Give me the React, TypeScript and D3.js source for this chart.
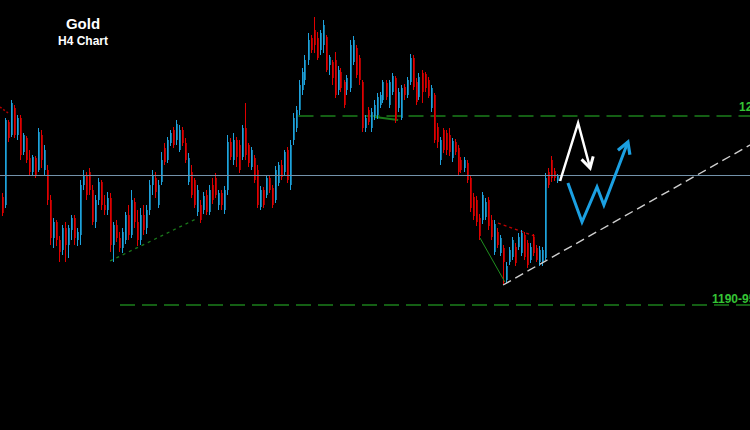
import React from "react";
import * as d3 from "d3";

const W = 750;
const H = 430;

const titleMain = "Gold";
const titleSub = "H4 Chart";
const upperLevelLabel = "1228-30";
const lowerLevelLabel = "1190-95";

const opens = [
  1211.6, 1210.0, 1226.6, 1224.0, 1229.4, 1224.0, 1227.4, 1220.6, 1223.4, 1219.4,
  1216.6, 1219.4, 1217.0, 1224.0, 1217.0, 1217.0, 1211.0, 1203.4, 1206.6, 1203.0,
  1201.0, 1205.4, 1202.0, 1205.0, 1207.4, 1203.0, 1204.0, 1214.0, 1216.0, 1216.6,
  1213.0, 1206.6, 1211.0, 1214.6, 1210.0, 1209.0, 1211.4, 1202.0, 1206.0, 1203.4,
  1201.4, 1203.0, 1208.0, 1204.0, 1210.6, 1206.6, 1203.0, 1208.0, 1205.4, 1209.0,
  1214.0, 1215.4, 1210.0, 1214.6, 1221.4, 1219.0, 1222.4, 1225.0, 1223.0, 1221.0,
  1225.0, 1222.4, 1214.6, 1216.6, 1215.0, 1208.6, 1210.0, 1209.0, 1212.0, 1208.6,
  1214.0, 1215.4, 1210.0, 1212.4, 1209.0, 1213.0, 1222.6, 1219.0, 1223.0, 1222.0,
  1219.6, 1225.4, 1222.0, 1217.6, 1219.4, 1217.0, 1209.6, 1213.0, 1212.0, 1215.4,
  1213.4, 1211.0, 1214.4, 1218.0, 1216.6, 1221.0, 1214.0, 1223.0, 1225.4, 1229.0,
  1233.0, 1235.0, 1239.0, 1243.4, 1245.0, 1243.4, 1241.0, 1242.0, 1243.6, 1238.0,
  1238.6, 1239.0, 1233.0, 1236.6, 1234.6, 1233.0, 1233.4, 1238.6, 1241.4, 1239.4,
  1234.6, 1225.4, 1229.0, 1225.4, 1227.8, 1228.0, 1230.0, 1231.0, 1234.4, 1230.0,
  1232.6, 1235.4, 1229.4, 1227.4, 1233.6, 1232.0, 1234.6, 1239.4, 1234.6, 1231.6,
  1236.4, 1236.2, 1235.0, 1229.4, 1232.0, 1225.6, 1219.0, 1225.0, 1224.4, 1224.0,
  1219.4, 1222.6, 1221.4, 1219.0, 1217.4, 1218.4, 1215.4, 1211.6, 1211.0, 1207.4,
  1207.0, 1207.6, 1211.0, 1207.0, 1200.6, 1204.6, 1200.4, 1201.4, 1195.0, 1198.6,
  1199.6, 1201.6, 1201.6, 1200.4, 1204.0, 1202.4, 1199.0, 1203.6, 1201.4, 1198.6,
  1198.6, 1199.4, 1216.6, 1219.0, 1216.8, 1214.8,
];

const closes = [
  1208.4, 1227.0, 1223.4, 1230.4, 1224.0, 1227.4, 1220.0, 1224.0, 1219.0, 1216.6,
  1219.6, 1216.0, 1224.6, 1219.0, 1221.0, 1211.0, 1203.4, 1206.6, 1203.0, 1200.6,
  1205.4, 1202.0, 1205.4, 1207.4, 1203.4, 1204.6, 1214.0, 1216.0, 1212.0, 1213.0,
  1206.6, 1211.0, 1214.6, 1210.0, 1209.0, 1211.4, 1202.0, 1206.0, 1203.4, 1201.4,
  1204.6, 1208.0, 1204.0, 1211.0, 1206.6, 1203.0, 1208.0, 1205.0, 1209.0, 1214.0,
  1216.0, 1212.6, 1214.0, 1219.0, 1218.6, 1223.0, 1224.4, 1222.0, 1226.2, 1225.0,
  1222.4, 1219.0, 1219.4, 1212.0, 1210.0, 1213.0, 1207.0, 1211.8, 1208.6, 1213.0,
  1211.0, 1212.0, 1212.4, 1210.0, 1213.0, 1222.6, 1219.6, 1223.0, 1219.6, 1217.0,
  1225.4, 1220.0, 1218.4, 1221.0, 1215.0, 1210.0, 1213.0, 1210.0, 1215.4, 1213.0,
  1210.0, 1217.0, 1218.0, 1215.6, 1220.6, 1215.0, 1222.0, 1227.4, 1229.0, 1234.0,
  1236.6, 1239.0, 1243.0, 1241.0, 1242.0, 1239.4, 1244.4, 1246.0, 1237.0, 1239.6,
  1235.4, 1232.0, 1237.0, 1233.4, 1230.0, 1235.4, 1242.0, 1243.0, 1236.0, 1235.0,
  1225.4, 1227.4, 1226.6, 1228.6, 1230.0, 1231.6, 1232.0, 1234.6, 1231.6, 1234.6,
  1235.8, 1227.0, 1232.6, 1233.4, 1232.0, 1235.0, 1239.4, 1233.6, 1230.6, 1235.6,
  1232.6, 1233.4, 1231.8, 1233.4, 1223.0, 1222.6, 1223.0, 1221.0, 1221.0, 1220.6,
  1222.8, 1220.6, 1216.6, 1217.0, 1219.0, 1215.0, 1209.4, 1207.8, 1206.6, 1203.8,
  1212.0, 1210.6, 1205.8, 1203.6, 1206.2, 1202.0, 1203.4, 1198.6, 1197.8, 1201.0,
  1203.0, 1198.4, 1203.6, 1204.4, 1199.6, 1198.0, 1201.6, 1200.4, 1199.0, 1201.0,
  1201.0, 1215.4, 1214.0, 1215.4, 1215.4, 1215.8,
];

const highs = [
  1212.4, 1227.4, 1227.0, 1231.0, 1230.0, 1228.0, 1228.0, 1224.4, 1223.8, 1221.0,
  1220.0, 1219.8, 1225.4, 1225.0, 1222.0, 1218.0, 1212.0, 1207.4, 1207.0, 1203.8,
  1206.0, 1206.6, 1206.0, 1208.0, 1208.0, 1205.4, 1215.0, 1217.0, 1216.6, 1217.4,
  1214.0, 1212.0, 1215.4, 1215.0, 1212.0, 1212.6, 1212.4, 1206.6, 1207.0, 1204.6,
  1205.4, 1208.6, 1210.0, 1213.0, 1211.4, 1209.0, 1209.4, 1210.0, 1210.0, 1215.0,
  1217.0, 1216.6, 1215.0, 1220.6, 1222.4, 1223.6, 1225.0, 1225.6, 1227.0, 1226.0,
  1225.6, 1223.4, 1220.4, 1218.0, 1215.4, 1214.0, 1211.0, 1212.6, 1213.0, 1214.0,
  1215.4, 1216.4, 1213.0, 1213.0, 1213.8, 1224.0, 1223.4, 1224.4, 1223.6, 1223.0,
  1226.0, 1230.4, 1222.4, 1221.6, 1220.0, 1218.0, 1213.8, 1213.6, 1216.0, 1216.0,
  1214.0, 1217.8, 1218.6, 1219.0, 1221.0, 1221.6, 1223.0, 1228.4, 1229.8, 1235.0,
  1237.4, 1240.0, 1244.4, 1244.0, 1247.6, 1244.6, 1245.0, 1247.0, 1244.0, 1240.0,
  1239.0, 1240.6, 1237.8, 1237.4, 1235.0, 1236.0, 1243.0, 1243.8, 1242.0, 1240.0,
  1235.0, 1228.0, 1229.6, 1229.4, 1231.0, 1232.4, 1232.6, 1235.0, 1235.0, 1235.0,
  1236.4, 1235.8, 1233.4, 1234.0, 1234.2, 1235.6, 1240.2, 1240.0, 1235.4, 1236.4,
  1237.0, 1236.6, 1235.6, 1234.0, 1232.4, 1226.4, 1223.6, 1225.4, 1225.0, 1225.4,
  1223.4, 1223.2, 1222.0, 1219.6, 1219.6, 1219.0, 1216.0, 1212.4, 1211.8, 1208.2,
  1212.6, 1211.4, 1211.6, 1208.0, 1207.0, 1205.4, 1204.0, 1202.0, 1198.6, 1201.6,
  1203.6, 1202.4, 1204.4, 1205.0, 1204.6, 1203.0, 1202.4, 1204.2, 1202.0, 1201.8,
  1201.6, 1216.4, 1217.4, 1219.8, 1217.4, 1216.2,
];

const lows = [
  1207.8, 1209.4, 1222.6, 1223.6, 1223.4, 1223.0, 1219.0, 1220.0, 1218.4, 1216.0,
  1216.0, 1215.4, 1216.6, 1217.4, 1216.0, 1210.0, 1202.0, 1201.4, 1201.8, 1198.6,
  1200.0, 1198.6, 1199.4, 1203.0, 1202.0, 1201.8, 1202.0, 1213.0, 1211.0, 1212.0,
  1206.0, 1205.4, 1210.0, 1209.0, 1208.0, 1208.0, 1200.6, 1198.6, 1202.6, 1200.6,
  1200.4, 1202.2, 1203.0, 1203.4, 1205.4, 1201.8, 1202.0, 1204.0, 1204.2, 1208.0,
  1212.0, 1211.4, 1209.4, 1214.0, 1218.0, 1218.4, 1221.8, 1221.4, 1222.0, 1220.6,
  1221.8, 1218.4, 1214.0, 1211.4, 1209.4, 1207.8, 1206.4, 1208.2, 1208.0, 1208.0,
  1210.2, 1211.4, 1209.0, 1209.0, 1208.2, 1212.0, 1219.0, 1218.0, 1217.6, 1216.4,
  1219.0, 1219.0, 1217.6, 1217.0, 1214.4, 1209.4, 1209.0, 1209.4, 1211.4, 1212.4,
  1209.4, 1210.4, 1213.8, 1215.0, 1216.0, 1214.4, 1213.0, 1222.0, 1224.6, 1228.0,
  1232.0, 1234.0, 1238.0, 1240.4, 1240.4, 1239.0, 1240.0, 1240.4, 1236.6, 1236.0,
  1234.0, 1231.4, 1232.0, 1232.6, 1229.4, 1232.0, 1232.6, 1238.0, 1235.4, 1234.0,
  1224.6, 1224.6, 1226.0, 1224.6, 1227.0, 1227.2, 1229.4, 1230.4, 1231.0, 1229.4,
  1232.0, 1226.4, 1228.6, 1227.0, 1231.0, 1231.4, 1234.0, 1233.0, 1230.0, 1231.0,
  1230.4, 1232.6, 1231.4, 1228.6, 1222.4, 1221.4, 1218.0, 1220.4, 1220.0, 1219.8,
  1218.6, 1220.0, 1216.0, 1216.4, 1216.6, 1214.4, 1208.6, 1207.0, 1205.8, 1203.0,
  1206.2, 1207.0, 1205.0, 1203.0, 1200.0, 1201.4, 1199.8, 1194.2, 1194.4, 1198.0,
  1199.0, 1197.8, 1201.0, 1199.8, 1199.0, 1197.4, 1198.4, 1199.8, 1198.6, 1197.8,
  1197.8, 1199.0, 1213.4, 1214.6, 1214.8, 1214.4,
];

// levels (price)
const currentPrice = 1216.0;
const upperLevel = 1227.8;
const upperLevelStart = 99;
const lowerLevel = 1190.0;
const lowerLevelStart = 39.5;

// annotations as [bar index, price]
const greenSupport: [number, number][] = [[36.2, 1198.8], [65.5, 1207.4]];
const greenSmall: [number, number][] = [[124.5, 1227.6], [132.2, 1227.0]];
const redTopLeft: [number, number][] = [[-0.5, 1229.6], [2.2, 1228.4]];
const redFlag: [number, number][] = [[165.5, 1206.4], [178.5, 1203.6]];
const greenDrop: [number, number][] = [[159.5, 1203.4], [167.8, 1194.6]];
const whiteTrend: [number, number][] = [[167.2, 1194.0], [249.5, 1222.0]];
const whiteArrow: [number, number][] = [[186.2, 1214.8], [192.2, 1226.4], [196.2, 1217.4]];
const blueArrow: [number, number][] = [
  [188.8, 1214.4], [193.5, 1206.6], [198.5, 1213.6], [200.8, 1210.0], [208.8, 1222.6],
];

const UP_BRIGHT = "#1fa2dd";
const UP_DARK = "#13789f";
const DN_BRIGHT = "#e00000";
const DN_DARK = "#a80000";

export default function App() {
  const x = d3.scaleLinear().domain([0, opens.length - 1]).range([1.5, 556.5]);
  const y = d3.scaleLinear().domain([1165, 1251]).range([H, 0]);
  const line = d3
    .line<[number, number]>()
    .x((d) => x(d[0]))
    .y((d) => y(d[1]));
  const xEnd = x.invert(W + 5);

  const candles = opens.map((o, i) => {
    const c = closes[i];
    const up = c >= o;
    const cx = Math.round(x(i)) + 0.5;
    const top = y(Math.max(o, c));
    const bot = y(Math.min(o, c));
    return (
      <g key={i}>
        <rect
          x={cx - 0.5}
          y={top}
          width={2}
          height={Math.max(1, bot - top)}
          fill={up ? UP_DARK : DN_DARK}
        />
        <line
          x1={cx}
          x2={cx}
          y1={y(highs[i])}
          y2={y(lows[i])}
          stroke={up ? UP_BRIGHT : DN_BRIGHT}
          strokeWidth={1}
        />
      </g>
    );
  });

  const font = "'Liberation Sans', Arial, sans-serif";
  const t0 = whiteTrend[0];
  const t1 = whiteTrend[1];
  const trendEnd: [number, number] = [xEnd, t0[1] + ((t1[1] - t0[1]) * (xEnd - t0[0])) / (t1[0] - t0[0])];

  return (
    <svg
      width={W}
      height={H}
      style={{ position: "fixed", left: 0, top: 0, display: "block", background: "#000" }}
    >
      <defs>
        <marker
          id="headW"
          viewBox="0 0 10 10"
          refX="8"
          refY="5"
          markerWidth="15"
          markerHeight="15"
          markerUnits="userSpaceOnUse"
          orient="auto"
        >
          <path d="M1,1 L8,5 L1,9" fill="none" stroke="#ffffff" strokeWidth="2" />
        </marker>
        <marker
          id="headB"
          viewBox="0 0 10 10"
          refX="8"
          refY="5"
          markerWidth="16"
          markerHeight="16"
          markerUnits="userSpaceOnUse"
          orient="auto"
        >
          <path d="M1,1 L8,5 L1,9" fill="none" stroke="#1ba0e2" strokeWidth="2" />
        </marker>
      </defs>
      <rect x={0} y={0} width={W} height={H} fill="#000" />

      {/* level lines */}
      <line
        x1={x(upperLevelStart)}
        x2={W}
        y1={y(upperLevel)}
        y2={y(upperLevel)}
        stroke="#1b7f1b"
        strokeWidth={1.6}
        strokeDasharray="15,7"
      />
      <line
        x1={x(lowerLevelStart)}
        x2={W}
        y1={y(lowerLevel)}
        y2={y(lowerLevel)}
        stroke="#1b7f1b"
        strokeWidth={1.6}
        strokeDasharray="15,7"
      />
      <path d={line(greenSupport) || ""} stroke="#1a7a1a" strokeWidth={1.3} strokeDasharray="3,4" fill="none" />
      <path d={line(greenSmall) || ""} stroke="#1a7a1a" strokeWidth={2} fill="none" />
      <path d={line(redTopLeft) || ""} stroke="#b00000" strokeWidth={1.5} strokeDasharray="2,2" fill="none" />
      <path d={line(redFlag) || ""} stroke="#c00000" strokeWidth={1.3} strokeDasharray="3,3" fill="none" />

      {candles}

      <path d={line(greenDrop) || ""} stroke="#1f8f1f" strokeWidth={1} fill="none" />

      {/* current price line */}
      <line x1={0} x2={W} y1={y(currentPrice) + 0.5} y2={y(currentPrice) + 0.5} stroke="#7392aa" strokeWidth={1.2} />

      {/* white dashed trend */}
      <path
        d={line([t0, trendEnd]) || ""}
        stroke="#cfcfcf"
        strokeWidth={1.4}
        strokeDasharray="9,5"
        fill="none"
      />

      {/* arrows */}
      <path
        d={line(whiteArrow) || ""}
        stroke="#ffffff"
        strokeWidth={2.5}
        fill="none"
        strokeLinejoin="miter"
        markerEnd="url(#headW)"
      />
      <path
        d={line(blueArrow) || ""}
        stroke="#1ba0e2"
        strokeWidth={3}
        fill="none"
        strokeLinejoin="miter"
        markerEnd="url(#headB)"
      />

      {/* level labels */}
      <text
        x={739}
        y={y(upperLevel) - 5}
        fill="#35c435"
        fontFamily={font}
        fontWeight="bold"
        fontSize={12}
      >
        {upperLevelLabel}
      </text>
      <text
        x={712}
        y={y(lowerLevel) - 2}
        fill="#35c435"
        fontFamily={font}
        fontWeight="bold"
        fontSize={12}
      >
        {lowerLevelLabel}
      </text>

      {/* titles */}
      <text x={83} y={29} textAnchor="middle" fill="#fff" fontFamily={font} fontWeight="bold" fontSize={15}>
        {titleMain}
      </text>
      <text x={83} y={45} textAnchor="middle" fill="#fff" fontFamily={font} fontWeight="bold" fontSize={12}>
        {titleSub}
      </text>
    </svg>
  );
}
